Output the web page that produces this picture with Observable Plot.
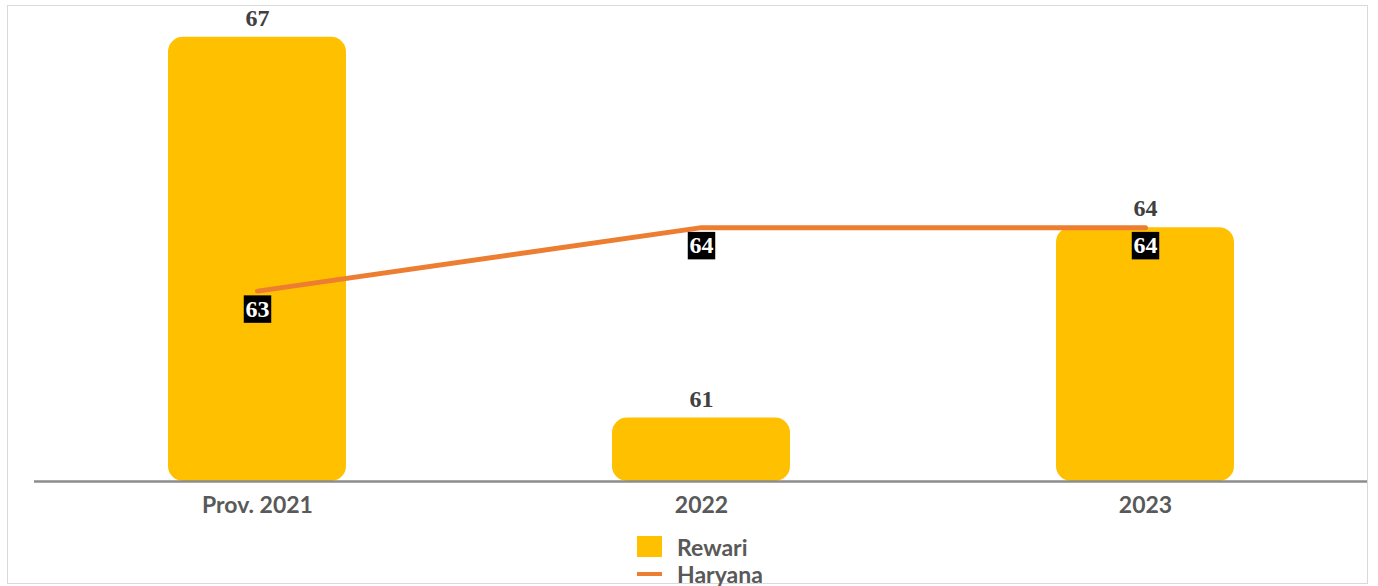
<!DOCTYPE html>
<html>
<head>
<meta charset="utf-8">
<script src="https://cdn.jsdelivr.net/npm/d3@7"></script>
<script src="https://cdn.jsdelivr.net/npm/@observablehq/plot@0.6"></script>
<style>
  html, body { margin: 0; padding: 0; background: #fff; }
  #wrap { position: relative; width: 1378px; height: 586px; overflow: hidden; }
  #frame { position: absolute; left: 7px; top: 5px; width: 1361px; height: 579px; box-sizing: border-box; border: 1.5px solid #d9d9d9; }
  #chart { position: absolute; left: 0; top: 0; }
  #legend { position: absolute; left: 637px; top: 533px; font-family: Lato, "Open Sans", sans-serif; font-weight: 700; font-size: 23px; color: #595959; }
  .item { display: flex; align-items: center; height: 27px; }
  .sw { width: 25px; margin-right: 15px; }
</style>
</head>
<body>
<div id="wrap">
  <div id="frame"></div>
  <div id="chart"></div>
  <div id="legend">
    <div class="item"><div class="sw" style="height:21px;background:#FFC000"></div><span>Rewari</span></div>
    <div class="item"><div class="sw" style="height:4px;background:#ED7D31"></div><span>Haryana</span></div>
  </div>
</div>
<script>
const years = ["Prov. 2021", "2022", "2023"];
const rewari = [67, 61, 64];
const haryana = [63, 64, 64];
const yBase = 60;

const data = years.map((y, i) => ({year: y, rewari: rewari[i], haryana: haryana[i]}));
const numFont = "Liberation Serif, serif";

const chart = Plot.plot({
  width: 1378,
  height: 520,
  marginLeft: 34,
  marginRight: 11,
  marginTop: 5,
  marginBottom: 39,
  style: {background: "transparent", overflow: "visible"},
  x: {domain: years, paddingInner: 0.6, paddingOuter: 0.3, label: null},
  y: {domain: [yBase, 67.5], axis: null},
  marks: [
    Plot.barY(data, {x: "year", y1: () => yBase, y2: "rewari", fill: "#FFC000", rx: 15}),
    Plot.ruleY([yBase], {stroke: "#8c8c8c", strokeWidth: 2.5}),
    Plot.line(data, {x: "year", y: "haryana", stroke: "#ED7D31", strokeWidth: 5, strokeLinecap: "round"}),
    Plot.text(data, {x: "year", y: "rewari", text: d => String(d.rewari), dy: -19, fill: "#404040", fontSize: 24, fontWeight: "bold", fontFamily: numFont}),
    Plot.dot(data, {x: "year", y: "haryana", symbol: "square", r: 15.5, fill: "black", dy: 18}),
    Plot.text(data, {x: "year", y: "haryana", text: d => String(d.haryana), dy: 18, fill: "white", fontSize: 24, fontWeight: "bold", fontFamily: numFont}),
    Plot.axisX({tickSize: 0, tickPadding: 15, fontSize: 23, fontWeight: "bold", fill: "#595959", fontFamily: "Lato, sans-serif", label: null})
  ]
});
document.getElementById("chart").appendChild(chart);
</script>
</body>
</html>
